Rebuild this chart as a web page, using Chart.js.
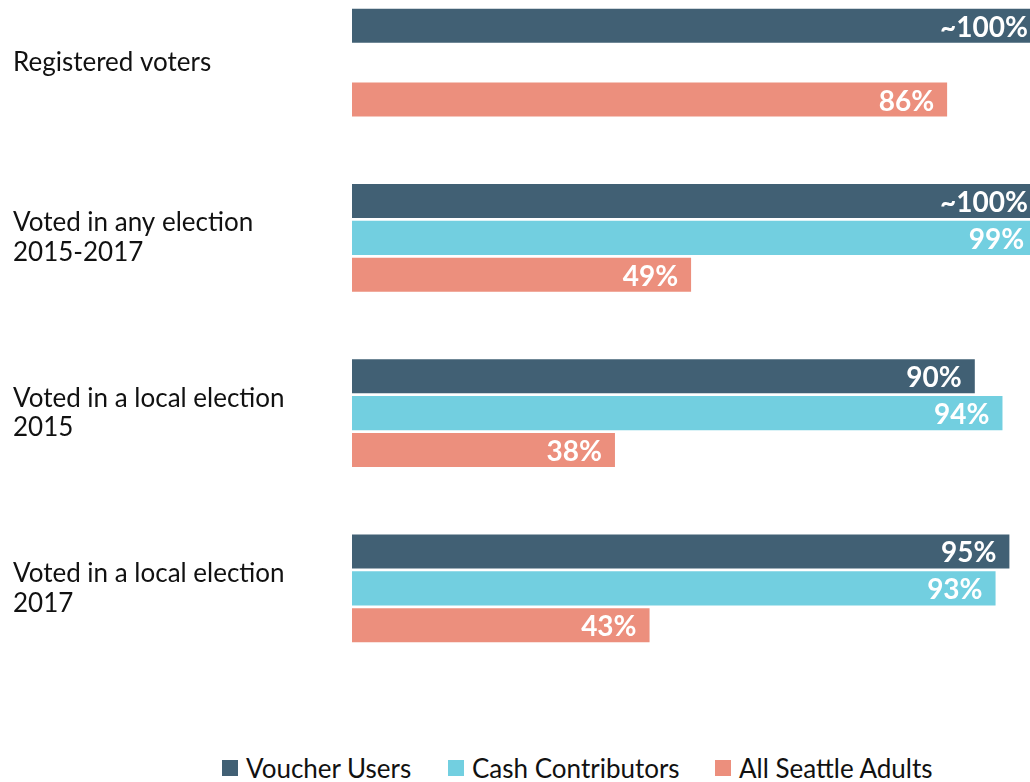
<!DOCTYPE html>
<html>
<head>
<meta charset="utf-8">
<script src="https://cdn.jsdelivr.net/npm/chart.js@4"></script>
<style>
  html, body { margin: 0; padding: 0; background: #fff; overflow: hidden; }
  body { width: 1030px; height: 782px; position: relative; font-family: Lato, "DejaVu Sans", sans-serif; }
  #wrap { position: absolute; left: 0; top: -25px; width: 1050px; height: 701px; }
  #legend { position: absolute; left: 0; top: 752px; width: 1030px; height: 30px;
            font-size: 26px; color: #111; white-space: nowrap; }
  #legend .item { position: absolute; top: 0; display: flex; align-items: center; }
  #legend .sw { width: 16px; height: 16px; margin-right: 8px; }
</style>
</head>
<body>
<div id="wrap"><canvas id="chart"></canvas></div>
<div id="legend"></div>
<script>
// ── Datos ───────────────────────────────────────────────────────────
const categories = [
    'Registered voters',
    ['Voted in any election', '2015-2017'],
    ['Voted in a local election', '2015'],
    ['Voted in a local election', '2017']
];
const seriesNames  = ['Voucher Users', 'Cash Contributors', 'All Seattle Adults'];
const voucherUsers = [100, 100, 90, 95];
const cashContrib  = [null, 99, 94, 93];
const allAdults    = [86, 49, 38, 43];
const colors       = ['#416074', '#72CFE0', '#EC8F7D'];

// etiqueta: los 100 se muestran como "~100%"
function fmt(v) { return v >= 100 ? '~100%' : v + '%'; }

// ── Plugin de etiquetas dentro de la barra ─────────────────────────
const barLabels = {
    id: 'barLabels',
    afterDatasetsDraw(chart) {
        const ctx = chart.ctx;
        ctx.save();
        ctx.font = 'bold 28px Lato, sans-serif';
        ctx.fillStyle = '#fff';
        ctx.textAlign = 'right';
        ctx.textBaseline = 'middle';
        chart.data.datasets.forEach((ds, i) => {
            chart.getDatasetMeta(i).data.forEach((bar, j) => {
                const v = ds.data[j];
                if (v == null) return;
                ctx.fillText(fmt(v), Math.min(bar.x, 1041) - 13, bar.y + 2);
            });
        });
        ctx.restore();
    }
};

const seriesData = [voucherUsers, cashContrib, allAdults];

new Chart(document.getElementById('chart'), {
    type: 'bar',
    data: {
        labels: categories,
        datasets: seriesNames.map((name, i) => ({
            label: name,
            data: seriesData[i],
            backgroundColor: colors[i],
            borderWidth: 0,
            barPercentage: 0.92,
            categoryPercentage: 0.633
        }))
    },
    options: {
        indexAxis: 'y',
        responsive: true,
        maintainAspectRatio: false,
        animation: false,
        layout: { padding: { left: 13, right: 6, top: 0, bottom: 0 } },
        plugins: {
            legend: { display: false },
            tooltip: { enabled: false }
        },
        scales: {
            x: {
                display: false,
                min: 0, max: 100
            },
            y: {
                grid: { display: false },
                border: { display: false },
                afterFit: (s) => { s.width = 339; s.paddingTop = 0; s.paddingBottom = 0; },
                ticks: {
                    crossAlign: 'far',
                    color: '#111',
                    padding: 0,
                    font: { family: 'Lato, sans-serif', size: 26, lineHeight: 1.15 }
                }
            }
        }
    },
    plugins: [barLabels]
});

// ── Leyenda en HTML ────────────────────────────────────────────────
const legend = document.getElementById('legend');
const legendX = [222, 448, 715];
seriesNames.forEach((name, i) => {
    const item = document.createElement('div');
    item.className = 'item';
    item.style.left = legendX[i] + 'px';
    item.innerHTML = '<span class="sw" style="background:' + colors[i] + '"></span><span>' + name + '</span>';
    legend.appendChild(item);
});
</script>
</body>
</html>
